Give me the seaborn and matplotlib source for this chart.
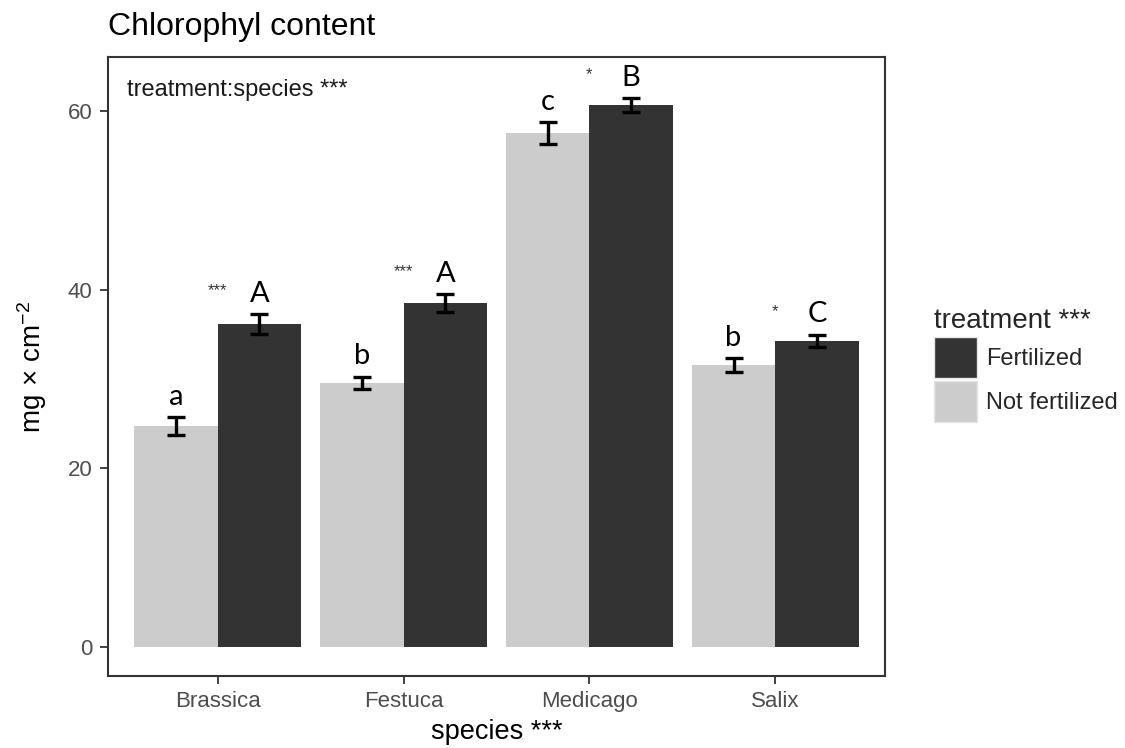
import numpy as np
import pandas as pd
import matplotlib
matplotlib.use("Agg")
import matplotlib.pyplot as plt
from matplotlib.patches import Patch
import seaborn as sns

species = ["Brassica", "Festuca", "Medicago", "Salix"]
treatments = ["Not fertilized", "Fertilized"]
mean_nf = [24.8, 29.6, 57.6, 31.6]
mean_f = [36.2, 38.5, 60.7, 34.3]
se_nf = [1.0, 0.7, 1.2, 0.8]
se_f = [1.1, 1.0, 0.8, 0.7]
letters_nf = ["a", "b", "c", "b"]
letters_f = ["A", "A", "B", "C"]
stars = ["***", "***", "*", "*"]

df = pd.DataFrame({
    "species": species * 2,
    "treatment": [treatments[0]] * 4 + [treatments[1]] * 4,
    "chl": mean_nf + mean_f,
    "se": se_nf + se_f,
    "letter": letters_nf + letters_f,
})

sns.set_style("ticks")
plt.rcParams["font.family"] = ["Liberation Sans", "DejaVu Sans"]
plt.rcParams["mathtext.fontset"] = "custom"
plt.rcParams["mathtext.rm"] = "Liberation Sans"
plt.rcParams["mathtext.it"] = "Liberation Sans"

pal = {"Not fertilized": "#cccccc", "Fertilized": "#333333"}

fig = plt.figure(figsize=(11.25, 7.48), dpi=100)
ax = fig.add_axes([108 / 1125, 1 - 676 / 748, (885 - 108) / 1125, (676 - 57) / 748])

sns.barplot(data=df, x="species", y="chl", hue="treatment", order=species,
            hue_order=treatments, palette=pal, errorbar=None, width=0.9,
            saturation=1, linewidth=0, ax=ax, legend=False)

# error bars + letters
for cont, tr in zip(ax.containers, treatments):
    sub = df[df.treatment == tr].set_index("species").loc[species]
    xs = [p.get_x() + p.get_width() / 2 for p in cont.patches]
    ax.errorbar(xs, sub["chl"], yerr=sub["se"], fmt="none", ecolor="black",
                elinewidth=2.4, capsize=6.5, capthick=2.4, zorder=5)
    for x, m, s, lab in zip(xs, sub["chl"], sub["se"], sub["letter"]):
        ax.text(x, m + s + 0.8, lab, ha="center", va="bottom", fontsize=21,
                family="Lato", color="black")

# significance stars between the bars
for i, (m, s, st) in enumerate(zip(mean_f, se_f, stars)):
    ax.text(i, m + s + 2.6, st, ha="center", va="center", fontsize=12, color="#333333")

ax.text(0.025, 0.965, "treatment:species ***", transform=ax.transAxes, ha="left",
        va="top", fontsize=17, color="#1a1a1a")

ax.set_ylim(-3.25, 66.1)
ax.set_xlim(-0.59, 3.59)
ax.set_yticks([0, 20, 40, 60])
ax.tick_params(axis="both", direction="out", length=6, width=1.3, color="#333333",
               labelcolor="#4d4d4d", labelsize=16, pad=5)
for sp in ax.spines.values():
    sp.set_visible(True)
    sp.set_color("#333333")
    sp.set_linewidth(1.5)

ax.set_xlabel("species ***", fontsize=19.5, color="black", labelpad=5)
ax.set_ylabel(r"mg$\,\times\,$cm$^{-2}$", fontsize=20, color="black", labelpad=14)
ax.set_title("Chlorophyl content", loc="left", fontsize=23, color="black", pad=16)

handles = [Patch(facecolor=pal["Fertilized"], edgecolor="#e6e6e6", label="Fertilized"),
           Patch(facecolor=pal["Not fertilized"], edgecolor="#e6e6e6", label="Not fertilized")]
leg = fig.legend(handles=handles, title="treatment ***", loc="upper left",
                 bbox_to_anchor=(925 / 1125, 1 - 299 / 748), frameon=False,
                 fontsize=17, title_fontsize=20, handlelength=1.8, handleheight=2.3,
                 handletextpad=0.4, labelspacing=0.12, borderaxespad=0,
                 alignment="left")

fig.savefig("out.png", dpi=100)
